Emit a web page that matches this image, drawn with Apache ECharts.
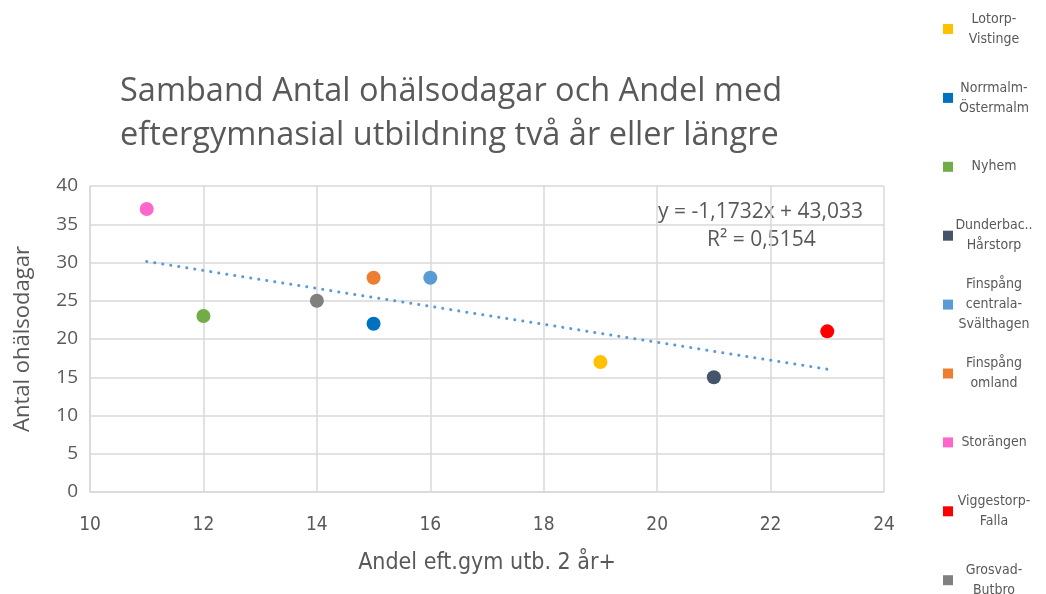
<!DOCTYPE html>
<html>
<head>
<meta charset="utf-8">
<script src="https://cdn.jsdelivr.net/npm/echarts@6/dist/echarts.min.js"></script>
<style>
  html, body { margin: 0; padding: 0; background: #fff; }
  #chart { width: 1046px; height: 594px; }
</style>
</head>
<body>
<div id="chart"></div>
<script>
// områden (legend order) and their values
const areas = [
  'Lotorp-\nVistinge',
  'Norrmalm-\nÖstermalm',
  'Nyhem',
  'Dunderbac..\nHårstorp',
  'Finspång\ncentrala-\nSvälthagen',
  'Finspång\nomland',
  'Storängen',
  'Viggestorp-\nFalla',
  'Grosvad-\nButbro'
];
const andelEftGym = [19, 15, 12, 21, 16, 15, 11, 23, 14];
const ohalsodagar = [17, 22, 23, 15, 28, 28, 37, 21, 25];
const colors = ['#FFC000', '#0070C0', '#70AD47', '#44546A', '#5B9BD5', '#ED7D31', '#FF66CC', '#FF0000', '#808080'];

// trendline endpoints
const trendX = [11, 23];
const trendY = [30.13, 16.05];
const trendText = ['y = -1,1732x + 43,033', 'R² = 0,5154'];

const xTicks = [10, 24, 2];
const yTicks = [0, 40, 5];

const font = "'Liberation Sans Narrow', 'DejaVu Sans Condensed', 'Open Sans', sans-serif";
const textColor = '#595959';

const chart = echarts.init(document.getElementById('chart'));

const series = areas.map((name, i) => ({
  name: name,
  type: 'scatter',
  symbolSize: 14,
  itemStyle: { color: colors[i], opacity: 1 },
  data: [[andelEftGym[i], ohalsodagar[i]]],
  z: 3
}));

series.push({
  name: 'trend',
  type: 'line',
  symbol: 'none',
  silent: true,
  lineStyle: { color: '#5B9BD5', width: 3, type: [0.1, 8], cap: 'round' },
  data: trendX.map((x, i) => [x, trendY[i]]),
  z: 2
});

// one small legend per area so the spacing is even
const legends = areas.map((name, i) => {
  const lines = name.split('\n').length;
  return {
    data: [name],
    orient: 'vertical',
    left: 938,
    top: 27 + i * 68.9 - lines * 10,
    itemWidth: 10,
    itemHeight: 10,
    itemGap: 4,
    icon: 'rect',
    selectedMode: false,
    itemStyle: { opacity: 1 },
    formatter: n => n.split('\n').map(s => '{c|' + s + '}').join('\n'),
    textStyle: {
      color: textColor,
      fontFamily: font,
      fontSize: 14,
      rich: { c: { width: 72, align: 'center', lineHeight: 20, fontSize: 14, color: textColor, fontFamily: font } }
    }
  };
});

chart.setOption({
  animation: false,
  title: {
    text: 'Samband Antal ohälsodagar och Andel med\neftergymnasial utbildning två år eller längre',
    left: 115,
    top: 65,
    textStyle: { color: textColor, fontSize: 32.5, fontWeight: 'normal', lineHeight: 44, fontFamily: "'Open Sans', sans-serif" }
  },
  legend: legends,
  grid: { left: 90, right: 162, top: 186, bottom: 102 },
  xAxis: {
    type: 'value',
    min: xTicks[0], max: xTicks[1], interval: xTicks[2],
    name: 'Andel eft.gym utb. 2 år+',
    nameLocation: 'middle',
    nameGap: 60,
    nameTextStyle: { color: textColor, fontSize: 23, fontFamily: font },
    axisLine: { show: true, lineStyle: { color: '#d9d9d9', width: 1.5 } },
    axisTick: { show: false },
    axisLabel: { color: textColor, fontSize: 19, margin: 24, fontFamily: font },
    splitLine: { show: true, lineStyle: { color: '#d9d9d9', width: 1.5 } }
  },
  yAxis: {
    type: 'value',
    min: yTicks[0], max: yTicks[1], interval: yTicks[2],
    name: 'Antal ohälsodagar',
    nameLocation: 'middle',
    nameGap: 56,
    nameTextStyle: { color: textColor, fontSize: 22, fontFamily: "'Open Sans', sans-serif" },
    axisLine: { show: true, lineStyle: { color: '#d9d9d9', width: 1.5 } },
    axisTick: { show: false },
    axisLabel: { color: textColor, fontSize: 19, margin: 12, fontFamily: "'Open Sans', sans-serif" },
    splitLine: { show: true, lineStyle: { color: '#d9d9d9', width: 1.5 } }
  },
  graphic: [
    {
      type: 'text',
      left: 658,
      top: 202,
      style: { text: trendText[0], fill: textColor, font: "21px 'Open Sans', sans-serif" }
    },
    {
      type: 'text',
      left: 707,
      top: 230,
      style: { text: trendText[1], fill: textColor, font: "21px 'Open Sans', sans-serif" }
    }
  ],
  series: series
});

window.addEventListener('resize', () => chart.resize());
</script>
</body>
</html>
